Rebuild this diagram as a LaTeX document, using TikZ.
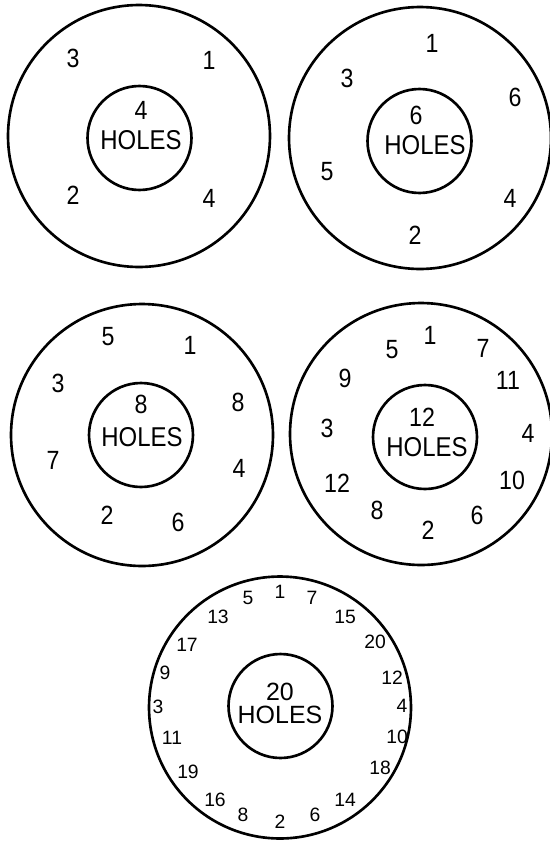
\documentclass[tikz,border=0pt]{standalone}
\usepackage{fontspec}
\setmainfont{Liberation Sans}
\newfontfamily\letterfont[FakeStretch=0.88]{Liberation Sans}

\begin{document}
\begin{tikzpicture}[x=0.02cm, y=-0.02cm,
    outer/.style={draw, circle, line width=1.5pt, minimum size=5.24cm, inner sep=0pt},
    inner/.style={draw, circle, line width=1.5pt, minimum size=2.08cm, inner sep=0pt},
    num/.style={inner sep=0pt, font=\letterfont\fontsize{15}{18}\selectfont},
    word/.style={inner sep=0pt, font=\letterfont\fontsize{15.5}{18}\selectfont},
    smallnum/.style={inner sep=0pt, font=\fontsize{11}{13}\selectfont},
    smallword/.style={inner sep=0pt, font=\fontsize{14.2}{16}\selectfont}]
    \useasboundingbox (0,0) rectangle (550,842);
    % 4 holes
    \node[outer] (out4) at (139,136) {};
    \node[inner] (in4)  at (139.5,138) {};
    \node[num]  (cnt4) at (141,110) {4};
    \node[word] (txt4) at (141,140) {HOLES};
    \foreach \t/\x/\y in {3/73/58, 1/209/60, 2/73/195, 4/209/198}
        \node[num] (h4-\t) at (\x,\y) {\t};
    % 6 holes
    \node[outer] (out6) at (420,138) {};
    \node[inner] (in6)  at (419.5,141) {};
    \node[num]  (cnt6) at (416,115) {6};
    \node[word] (txt6) at (425,145) {HOLES};
    \foreach \t/\x/\y in {1/432/43, 3/347/78, 6/515/97, 5/327/172, 4/510/198, 2/415/235}
        \node[num] (h6-\t) at (\x,\y) {\t};
    % 8 holes
    \node[outer] (out8) at (142,435) {};
    \node[inner] (in8)  at (141,435) {};
    \node[num]  (cnt8) at (141,404) {8};
    \node[word] (txt8) at (142,437) {HOLES};
    \foreach \t/\x/\y in {5/108/337, 1/190/345, 3/58/383, 8/238/402,
                          7/53/460, 4/239/468, 2/107/515, 6/178/522}
        \node[num] (h8-\t) at (\x,\y) {\t};
    % 12 holes
    \node[outer] (out12) at (421,434) {};
    \node[inner] (in12)  at (425,437) {};
    \node[num]  (cnt12) at (422,417) {12};
    \node[word] (txt12) at (427,447) {HOLES};
    \foreach \t/\x/\y in {1/430/335, 5/392/350, 7/483/348, 9/345/378,
                          11/508/380, 3/327/428, 4/528/433, 12/337/483,
                          10/512/480, 8/377/510, 6/477/515, 2/428/530}
        \node[num] (h12-\t) at (\x,\y) {\t};
    % 20 holes
    \node[outer] (out20) at (280,707.5) {};
    \node[inner] (in20)  at (280.5,706) {};
    \node[smallword] (cnt20) at (280,692) {20};
    \node[smallword] (txt20) at (280,715) {HOLES};
    \foreach \t/\x/\y in {1/280/592, 5/248/598, 7/312/598, 13/218/617,
                          15/345/617, 17/187/645, 20/375/642, 9/165/673,
                          12/392/678, 3/158/707, 4/402/706, 11/172/738,
                          10/397/737, 19/188/772, 18/380/768, 16/215/800,
                          14/345/800, 8/243/815, 6/315/815, 2/280/822}
        \node[smallnum] (h20-\t) at (\x,\y) {\t};
\end{tikzpicture}
\end{document}
